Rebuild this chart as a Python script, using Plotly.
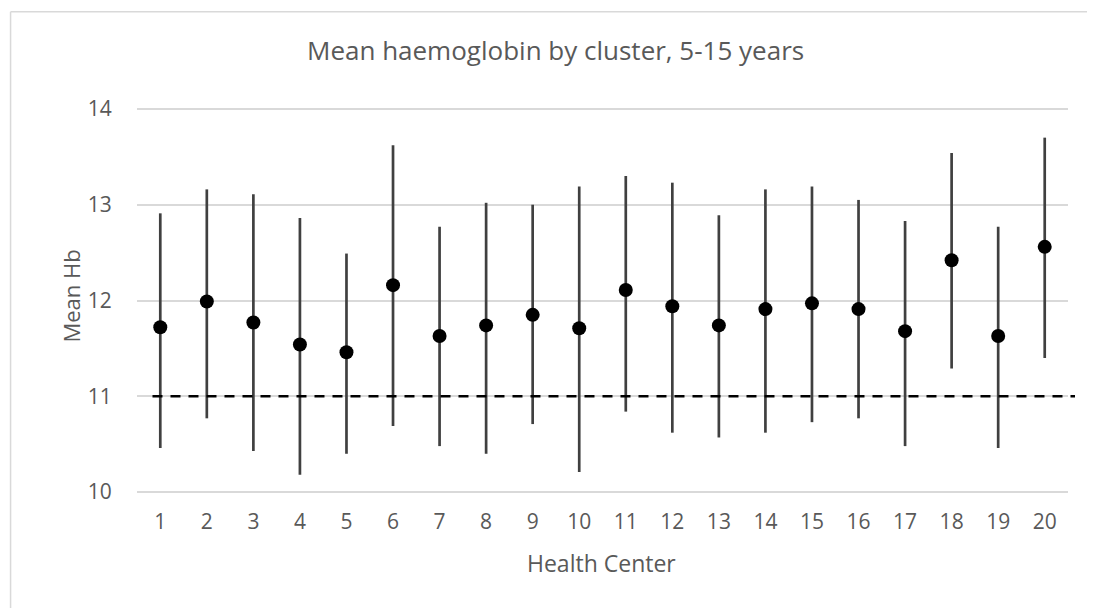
import plotly.graph_objects as go

centers = [str(i) for i in range(1, 21)]
mean_hb = [11.72, 11.99, 11.77, 11.54, 11.46, 12.16, 11.63, 11.74, 11.85, 11.71,
           12.11, 11.94, 11.74, 11.91, 11.97, 11.91, 11.68, 12.42, 11.63, 12.56]
upper = [12.91, 13.16, 13.11, 12.86, 12.49, 13.62, 12.77, 13.02, 13.00, 13.19,
         13.30, 13.23, 12.89, 13.16, 13.19, 13.05, 12.83, 13.54, 12.77, 13.70]
lower = [10.46, 10.77, 10.43, 10.18, 10.40, 10.69, 10.48, 10.40, 10.71, 10.21,
         10.84, 10.62, 10.57, 10.62, 10.73, 10.77, 10.48, 11.29, 10.46, 11.40]
threshold = 11
y_ticks = [10, 11, 12, 13, 14]

OFF = 8  # page body margin
PADV = 0.02  # small range padding so edge gridlines are drawn
UNIT = (492 - 109) / 4.0
W, H = 1095 - OFF, 608 - OFF
L, R = 136.5 - OFF, 1068 - OFF
T, B = 109 - OFF - PADV * UNIT, 492 - OFF + PADV * UNIT

def px(x):
    return (x - OFF - L) / (R - L)

def py(y):
    return (B - (y - OFF)) / (B - T)

FONT = "Open Sans"
TXT = "#595959"

fig = go.Figure()
fig.add_trace(go.Scatter(
    x=centers, y=mean_hb, mode="markers",
    marker=dict(color="black", size=14),
    error_y=dict(type="data", symmetric=False,
                 array=[u - m for u, m in zip(upper, mean_hb)],
                 arrayminus=[m - l for m, l in zip(mean_hb, lower)],
                 color="#404040", thickness=2.7, width=0),
    showlegend=False,
))

fig.update_layout(
    width=W, height=H,
    margin=dict(l=L, r=W - R, t=T, b=H - B, pad=0),
    paper_bgcolor="white", plot_bgcolor="white",
    font=dict(family=FONT, color=TXT, size=21),
    xaxis=dict(type="category", range=[-0.5, 19.5], showgrid=False, zeroline=False,
               showline=False, ticks="outside", ticklen=9, tickcolor="rgba(0,0,0,0)",
               tickfont=dict(size=21, color=TXT)),
    yaxis=dict(range=[10 - PADV, 14 + PADV], tickvals=y_ticks, showgrid=True,
               gridcolor="#d9d9d9", gridwidth=2, zeroline=False, showline=False,
               ticks="outside", ticklen=20, tickcolor="rgba(0,0,0,0)",
               tickfont=dict(size=21, color=TXT)),
    shapes=[
        dict(type="line", xref="paper", yref="y", x0=px(152), x1=px(1075),
             y0=threshold, y1=threshold, line=dict(color="black", width=2.5, dash="10px,8px")),
        dict(type="line", xref="paper", yref="paper", x0=px(10), x1=px(1100),
             y0=py(12), y1=py(12), line=dict(color="#d9d9d9", width=1.5), layer="below"),
        dict(type="line", xref="paper", yref="paper", x0=px(10), x1=px(10),
             y0=py(12), y1=py(620), line=dict(color="#d9d9d9", width=1.5), layer="below"),
    ],
    annotations=[
        dict(text="Mean haemoglobin by cluster, 5-15 years", xref="paper", yref="paper",
             x=px(555), y=py(50), showarrow=False, xanchor="center", yanchor="middle",
             font=dict(size=26, color=TXT, family=FONT)),
        dict(text="Mean Hb", xref="paper", yref="paper", x=px(70), y=py(296),
             showarrow=False, textangle=-90, xanchor="center", yanchor="middle",
             font=dict(size=22, color=TXT, family=FONT)),
        dict(text="Health Center", xref="paper", yref="paper", x=px(601), y=py(563),
             showarrow=False, xanchor="center", yanchor="middle",
             font=dict(size=23, color=TXT, family=FONT)),
    ],
)

fig.write_html("out.html")
